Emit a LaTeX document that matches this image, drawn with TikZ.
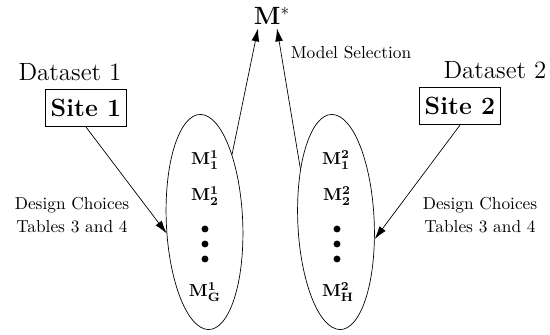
\documentclass[tikz,border=0pt]{standalone}
\usepackage{amsmath,amssymb,bm}
\usetikzlibrary{arrows.meta,positioning,calc,shapes.geometric}

\begin{document}
\begin{tikzpicture}[x=0.0203cm, y=-0.0203cm,
      arr/.style={-{Latex[length=7.5pt,width=4.5pt]}},
      sitebox/.style={draw, font=\Large\bfseries, inner sep=3pt,
                      minimum height=0.76cm},
      setlbl/.style={font=\Large},
      pool/.style={draw, ellipse, inner sep=0pt, minimum width=1.56cm,
                   minimum height=4.34cm, yslant=-0.3, transform shape},
      mdl/.style={inner sep=1pt},
      dotn/.style={circle, fill, inner sep=0pt, minimum size=4pt},
      note/.style={align=center}
    ]
    \useasboundingbox (0,0) rectangle (550,335);
    % TOP: selected model
    \node[font=\Large, inner sep=2pt] (mstar) at (272,16) {$\mathbf{M}^*$};
    \node (msel) at (351,53) {Model Selection};
    % LEFT: site 1 and its pool of models
    \node[setlbl] (ds1) at (70,72) {Dataset 1};
    \node[sitebox] (s1) at (86,108) {Site 1};
    \node[pool] (e1) at (204.5,222) {};
    \node[mdl] (m11) at (205,160) {$\mathbf{M_1^1}$};
    \node[mdl] (m12) at (205,196) {$\mathbf{M_2^1}$};
    \node[mdl] (m1g) at (205,292) {$\mathbf{M_G^1}$};
    \node[note] (dc1) at (72,215) {Design Choices\\[1pt]Tables 3 and 4};
    % RIGHT: site 2 and its pool of models
    \node[setlbl] (ds2) at (495,70) {Dataset 2};
    \node[sitebox] (s2) at (460,106) {Site 2};
    \node[pool] (e2) at (336,222) {};
    \node[mdl] (m21) at (336,160) {$\mathbf{M_1^2}$};
    \node[mdl] (m22) at (337,196) {$\mathbf{M_2^2}$};
    \node[mdl] (m2h) at (338,292) {$\mathbf{M_H^2}$};
    \node[note] (dc2) at (480,215) {Design Choices\\[1pt]Tables 3 and 4};
    % vertical dots in both pools
    \foreach \y/\k in {229/1,244/2,259/3}{
      \node[dotn] (d1\k) at (205,\y) {};
      \node[dotn] (d2\k) at (337,\y) {};
    }
    % sites -> pools -> selected model
    \draw[arr] (s1.south) -- (e1.211);
    \draw[arr] (s2.south) -- (e2.-8);
    \draw[arr] (e1.70) -- ($(mstar.south)+(-14,0)$);
    \draw[arr] (e2.130) -- ($(mstar.south)+(5,0)$);
  \end{tikzpicture}
\end{document}
